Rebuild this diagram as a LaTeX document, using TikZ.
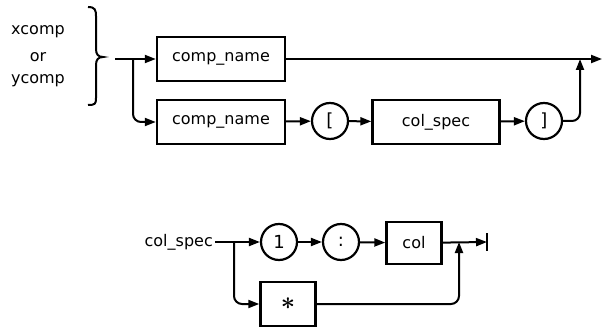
\documentclass[tikz,border=0pt]{standalone}
\usepackage{amsmath}
\usepackage{fontspec}
\setmainfont{DejaVu Sans}
\usetikzlibrary{arrows.meta,positioning}
\tikzset{
  synbox/.style={draw,line width=2.4pt,minimum height=44pt,inner sep=0pt},
  syncirc/.style={draw,circle,line width=2.2pt,minimum size=36pt,inner sep=0pt,
    font=\fontsize{18}{18}\selectfont},
  flow/.style={line width=2pt,-{Triangle[length=11pt,width=8pt]}},
  plain/.style={line width=2pt},
}

\begin{document}
\begin{tikzpicture}[x=1pt,y=-1pt,font=\fontsize{16}{16}\selectfont]
\useasboundingbox (0,0) rectangle (602,331);

% xcomp / ycomp with component name
\node (xc) at (38,32) {xcomp};
\node (orword) at (38,57) {or};
\node (yc) at (38,81) {ycomp};
\draw[plain] (88,7) .. controls (95,7) and (96,10) .. (96,16) -- (96,49)
  .. controls (96,54) and (98,57) .. (103,57) .. controls (98,57) and (96,60) .. (96,65)
  -- (96,98) .. controls (96,104) and (95,105) .. (88,105);

\node[synbox,minimum width=128pt] (name1) at (221,59) {comp\_name};
\node[synbox,minimum width=128pt] (name2) at (221,122) {comp\_name};
\node[syncirc] (lbrack) at (330,121) {[};
\node[synbox,minimum width=127pt] (spec) at (436,122) {col\_spec};
\node[syncirc] (rbrack) at (544,121) {]};
\coordinate (in1) at (115,59);
\coordinate (fork1) at (133,59);
\coordinate (join1) at (580,59);
\coordinate (out1) at (602,59);

\draw[plain] (in1) -- (fork1);
\draw[flow] (fork1) -- (name1);
\draw[flow,rounded corners=8pt] (fork1) |- (name2);
\draw[flow] (name1) -- (out1);
\draw[flow] (name2) -- (lbrack);
\draw[flow] (lbrack) -- (spec);
\draw[flow] (spec) -- (rbrack);
\draw[flow,rounded corners=8pt] (rbrack) -| (join1);

% col_spec
\node[anchor=east,inner sep=2pt] (speclabel) at (215,242) {col\_spec};
\coordinate (fork2) at (234,242);
\node[syncirc] (one) at (279,242) {1};
\node[syncirc] (colon) at (341,242) {:};
\node[synbox,minimum width=55pt,minimum height=42pt] (colbox) at (414,243) {col};
\node[synbox,minimum width=55pt] (star) at (288,304)
  {\fontsize{34}{34}\selectfont$\boldsymbol{\ast}$};
\coordinate (join2) at (459,242);
\coordinate (out2) at (487,242);

\draw[plain] (speclabel) -- (fork2);
\draw[flow] (fork2) -- (one);
\draw[flow,rounded corners=8pt] (fork2) |- (star);
\draw[flow] (one) -- (colon);
\draw[flow] (colon) -- (colbox);
\draw[flow] (colbox) -- (out2);
\draw[flow,rounded corners=8pt] (star) -| (join2);
\draw[plain] (out2) ++(0,-9) -- ++(0,18);
\end{tikzpicture}
\end{document}
